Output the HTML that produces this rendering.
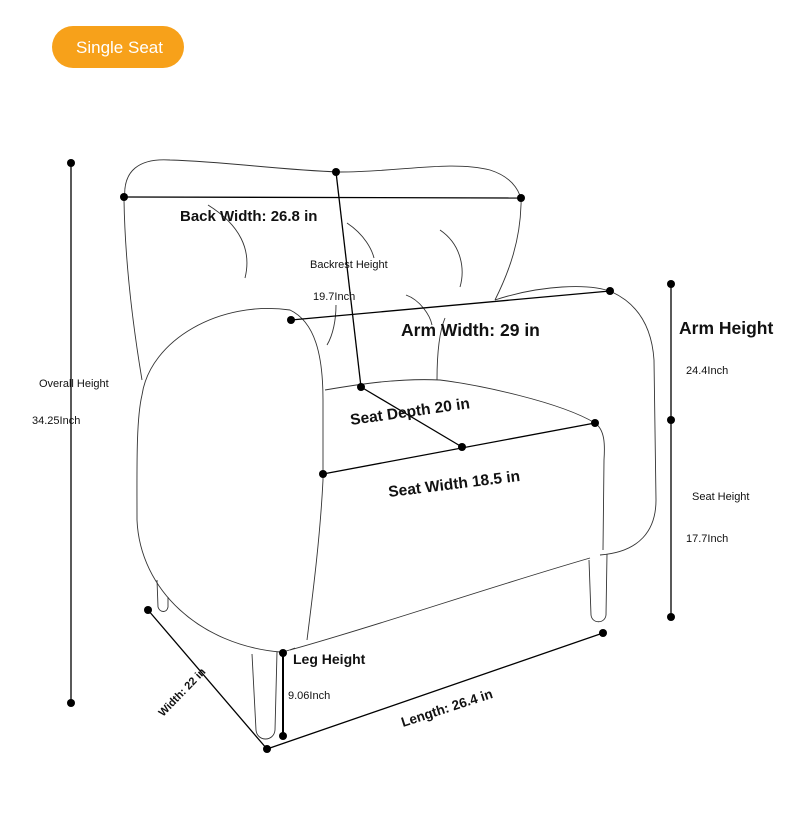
<!DOCTYPE html>
<html><head><meta charset="utf-8"><style>
html,body{margin:0;padding:0;background:#fff;}
svg{display:block;font-family:"Liberation Sans",sans-serif;}
</style></head><body>
<svg width="790" height="816" viewBox="0 0 790 816" xmlns="http://www.w3.org/2000/svg">
<rect x="0" y="0" width="790" height="816" fill="#fff"/>
<rect x="52" y="26" width="132" height="42" rx="21" fill="#f7a11a"/>
<text x="76" y="53" font-size="17" fill="#fff">Single Seat</text>

<g fill="none" stroke="#333" stroke-width="0.9">
<path d="M125,200 C122,170 140,158 170,160 C230,162 280,170 340,172 C400,172 450,160 490,170 C515,178 522,195 521,205 C520,240 510,270 495,300"/>
<path d="M124,200 C125,260 132,320 142,380"/>
<path d="M208,205 C240,225 252,250 245,278"/>
<path d="M347,223 C365,235 372,250 374,258"/>
<path d="M440,230 C462,245 465,270 460,287"/>
<path d="M406,295 C420,300 430,315 432,325"/>
<path d="M336,305 C336,320 333,335 327,345"/>
<path d="M142,395 C150,340 220,300 290,310 C315,322 323,355 323,400 L323,480 C320,540 312,600 307,640"/>
<path d="M142,395 C136,420 137,470 137,520 C140,590 200,645 280,652 C285,652 290,650 295,648"/>
<path d="M495,300 C540,285 590,283 612,292 C640,305 652,330 654,360 L656,500 C656,530 640,552 600,555"/>
<path d="M437,380 C437,350 440,330 445,318"/>
<path d="M325,390 C360,384 400,378 440,380 C480,385 560,402 595,423 C605,430 605,445 604,460 L603,550"/>
<path d="M290,650 C380,625 480,590 590,558"/>
<path d="M252,654 L256,730 C257,742 274,742 275,730 L277,652"/>
<path d="M157,580 L158,607 C160,613 167,613 168,607 L168,597"/>
<path d="M589,560 L591,615 C592,624 605,624 606,615 L607,554"/>
</g>

<g stroke="#000" stroke-width="1.3" fill="none">
<line x1="71" y1="163" x2="71" y2="703"/>
<line x1="124" y1="197" x2="521" y2="198"/>
<line x1="336" y1="172" x2="361" y2="387"/>
<line x1="291" y1="320" x2="610" y2="291"/>
<line x1="361" y1="387" x2="462" y2="447"/>
<line x1="323" y1="474" x2="595" y2="423"/>
<line x1="671" y1="284" x2="671" y2="617"/>
<line x1="283" y1="653" x2="283" y2="736" stroke-width="2"/>
<line x1="148" y1="610" x2="267" y2="749"/>
<line x1="267" y1="749" x2="603" y2="633"/>
</g>
<g fill="#000">
<circle cx="71" cy="163" r="4"/><circle cx="71" cy="703" r="4"/>
<circle cx="124" cy="197" r="4"/><circle cx="521" cy="198" r="4"/>
<circle cx="336" cy="172" r="4"/><circle cx="361" cy="387" r="4"/>
<circle cx="291" cy="320" r="4"/><circle cx="610" cy="291" r="4"/>
<circle cx="462" cy="447" r="4"/>
<circle cx="323" cy="474" r="4"/><circle cx="595" cy="423" r="4"/>
<circle cx="671" cy="284" r="4"/><circle cx="671" cy="420" r="4"/><circle cx="671" cy="617" r="4"/>
<circle cx="283" cy="653" r="4"/><circle cx="283" cy="736" r="4"/>
<circle cx="148" cy="610" r="4"/><circle cx="267" cy="749" r="4"/><circle cx="603" cy="633" r="4"/>
</g>

<g fill="#111">
<text x="180" y="221" font-size="15" font-weight="bold">Back Width: 26.8 in</text>
<text x="310" y="268" font-size="11">Backrest Height</text>
<text x="313" y="300" font-size="11">19.7Inch</text>
<text x="401" y="336" font-size="17.5" font-weight="bold">Arm Width: 29 in</text>
<text x="351" y="425" font-size="15.5" font-weight="bold" transform="rotate(-8 351 425)">Seat Depth 20 in</text>
<text x="389" y="497" font-size="15.5" font-weight="bold" transform="rotate(-7 389 497)">Seat Width 18.5 in</text>
<text x="39" y="387" font-size="11">Overall Height</text>
<text x="32" y="424" font-size="11">34.25Inch</text>
<text x="679" y="334" font-size="17.5" font-weight="bold">Arm Height</text>
<text x="686" y="374" font-size="11">24.4Inch</text>
<text x="692" y="500" font-size="11">Seat Height</text>
<text x="686" y="542" font-size="11">17.7Inch</text>
<text x="293" y="664" font-size="14" font-weight="bold">Leg Height</text>
<text x="288" y="699" font-size="11">9.06Inch</text>
<text x="163" y="717" font-size="11" font-weight="bold" transform="rotate(-46 163 717)">Width: 22 in</text>
<text x="403" y="727" font-size="13.5" font-weight="bold" transform="rotate(-18 403 727)">Length: 26.4 in</text>
</g>
</svg>
</body></html>
